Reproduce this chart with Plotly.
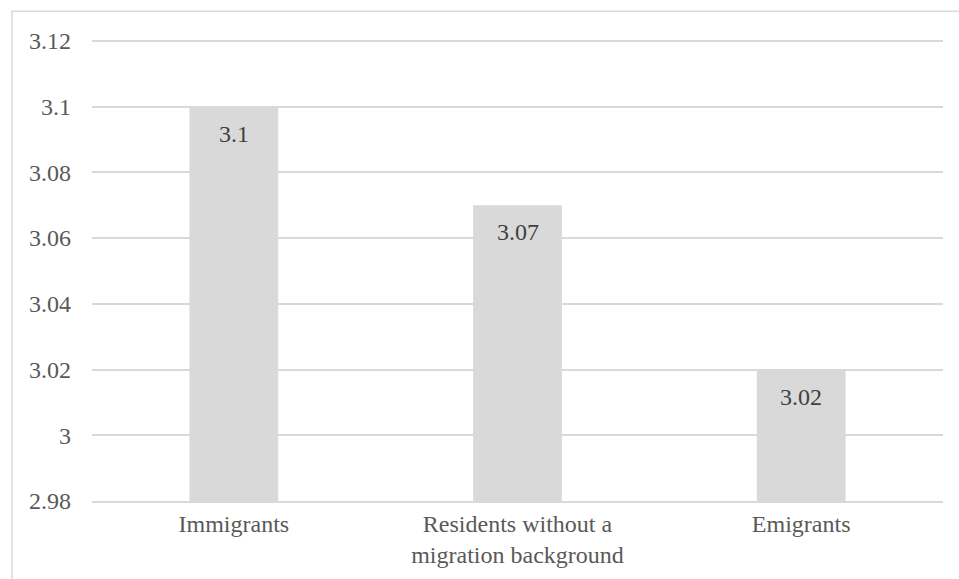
import plotly.graph_objects as go

categories = ["Immigrants", "Residents without a<br>migration background", "Emigrants"]
values = [3.10, 3.07, 3.02]
value_labels = ["3.1", "3.07", "3.02"]
y_ticks = [2.98, 3.00, 3.02, 3.04, 3.06, 3.08, 3.10, 3.12]
y_tick_labels = ["2.98", "3", "3.02", "3.04", "3.06", "3.08", "3.1", "3.12"]

FONT = "Liberation Serif, Times New Roman, serif"
Y_MIN, Y_MAX = y_ticks[0], y_ticks[-1]
PAD = 0.003

fig = go.Figure()
fig.add_trace(go.Bar(
    x=categories, y=[v - Y_MIN for v in values], base=Y_MIN,
    marker=dict(color="#d9d9d9", line=dict(width=0)),
    hoverinfo="skip",
))

for c, v, t in zip(categories, values, value_labels):
    fig.add_annotation(x=c, y=v, text=t, showarrow=False, yanchor="middle",
                       yshift=-27, font=dict(family=FONT, size=24, color="#404040"))

top_px = 41 - PAD / (Y_MAX - Y_MIN) * 460
plot_h = 501 - top_px

fig.add_shape(type="rect", xref="paper", yref="paper",
              x0=-0.0940, x1=1.05, y0=-0.3, y1=(501 - 11.5) / plot_h,
              line=dict(color="#d9d9d9", width=1.5), fillcolor="rgba(0,0,0,0)", layer="below")

fig.update_layout(
    width=959, height=579,
    margin=dict(l=91.5, r=15.5, t=top_px, b=78),
    paper_bgcolor="white", plot_bgcolor="white",
    showlegend=False, bargap=0.687,
    font=dict(family=FONT, size=24, color="#595959"),
    xaxis=dict(showgrid=False, zeroline=False, showline=True, linecolor="#d9d9d9",
               linewidth=1.5, ticks="", tickfont=dict(size=24, color="#595959")),
    yaxis=dict(range=[Y_MIN, Y_MAX + PAD], tickvals=y_ticks, ticktext=y_tick_labels,
               showgrid=True, gridcolor="#d9d9d9", gridwidth=1.5, zeroline=False,
               showline=False, ticks="", ticklabelstandoff=20,
               tickfont=dict(size=24, color="#595959")),
)

fig.write_html("out.html")
